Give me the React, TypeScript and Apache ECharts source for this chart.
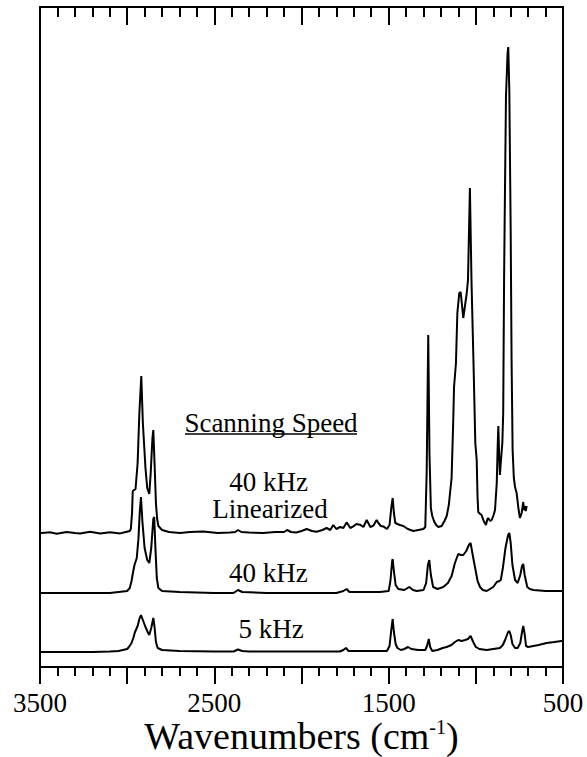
import React, { useEffect, useRef } from "react";
import * as echarts from "echarts";

// Wavenumber (cm-1) vs. band height (plot units above each trace's baseline)
const khz5: [number, number][] = [
  [3500, 0], [3200, 0], [3100, 0.5], [3050, 1], [3000, 3], [2990, 5], [2975, 9], [2965, 14],
  [2955, 20], [2940, 26], [2930, 33], [2921, 37], [2910, 32], [2895, 25], [2880, 19], [2873, 17],
  [2862, 24], [2850, 34], [2843, 25], [2835, 10], [2825, 4], [2800, 2], [2700, 1], [2500, 0.5],
  [2390, 0.5], [2364, 2.5], [2340, 1], [2300, 0.5], [2000, 0.5], [1780, 0.5], [1760, 2], [1745, 4],
  [1730, 1], [1600, 1], [1510, 1], [1495, 6], [1485, 22], [1477, 33], [1470, 20], [1460, 8],
  [1450, 4], [1430, 2], [1410, 3], [1389, 5], [1370, 3], [1330, 2], [1290, 2], [1280, 6],
  [1270, 13], [1262, 5], [1250, 1], [1220, 2], [1190, 4], [1167, 5], [1140, 7], [1120, 10],
  [1101, 12], [1080, 11], [1062, 12], [1045, 13], [1030, 16], [1015, 10], [1000, 5], [980, 3],
  [938, 2], [900, 3], [862, 4], [845, 7], [830, 13], [815, 20], [808, 21], [800, 17], [790, 8],
  [775, 4], [760, 4], [745, 9], [735, 20], [728, 26], [720, 18], [712, 6], [700, 5], [670, 6],
  [640, 7], [594, 9], [550, 10], [508, 11], [500, 11],
];

const khz40: [number, number][] = [
  [3500, 0], [3100, 0], [3000, 2], [2985, 5], [2975, 12], [2965, 22], [2958, 28], [2945, 35],
  [2935, 55], [2928, 80], [2921, 96], [2912, 70], [2900, 45], [2885, 33], [2873, 30], [2862, 45],
  [2850, 74], [2845, 76], [2838, 45], [2830, 15], [2821, 5], [2800, 2], [2700, 1], [2500, 0],
  [2390, 0], [2364, 3], [2340, 1], [2200, 0], [1800, 0], [1760, 2], [1741, 4], [1725, 1],
  [1550, 1], [1500, 2], [1490, 12], [1480, 32], [1477, 34], [1470, 22], [1460, 8], [1445, 4],
  [1410, 3], [1382, 6], [1360, 3], [1339, 2], [1300, 3], [1285, 10], [1275, 28], [1267, 33],
  [1258, 18], [1245, 6], [1220, 4], [1187, 6], [1160, 10], [1139, 17], [1120, 30], [1101, 39],
  [1085, 38], [1072, 38], [1055, 42], [1040, 48], [1030, 50], [1020, 40], [1005, 26], [990, 12],
  [976, 6], [960, 3], [938, 2], [900, 6], [880, 11], [865, 12], [857, 13], [845, 25], [830, 45],
  [815, 58], [808, 60], [800, 50], [790, 28], [775, 13], [760, 10], [745, 18], [735, 27],
  [728, 29], [720, 18], [705, 6], [690, 4], [670, 3], [600, 2], [500, 2],
];

const khz40Linearized: [number, number][] = [
  [3500, 0], [3490, 0], [3443, 0.7], [3404, -0.7], [3347, 1], [3300, 0], [3270, -0.4], [3213, 1.3],
  [3155, -0.4], [3098, 0.7], [3040, -0.4], [3002, 1.3], [2985, 2], [2979, 4], [2972, 20], [2968, 42],
  [2960, 43], [2952, 44], [2940, 70], [2930, 120], [2919, 157], [2910, 110], [2895, 65], [2885, 45],
  [2873, 39], [2865, 60], [2855, 95], [2850, 103], [2843, 70], [2835, 30], [2828, 14], [2821, 7],
  [2800, 3], [2760, 1], [2697, 0], [2640, 1], [2565, 1.5], [2480, 0], [2410, 0.5], [2380, 1],
  [2364, 3], [2345, 1], [2300, 0.5], [2221, 0], [2150, 1], [2100, 1], [2083, 3], [2060, 1],
  [2030, 0.5], [2000, 2], [1970, 4], [1940, 2], [1913, 1.3], [1880, 3], [1856, 5], [1835, 3],
  [1818, 8], [1800, 4], [1779, 6], [1760, 5], [1741, 10.6], [1720, 5], [1703, 6.6], [1685, 9],
  [1665, 8.3], [1645, 6], [1626, 13], [1605, 6], [1588, 7.3], [1569, 13], [1559, 10], [1545, 7],
  [1531, 6.6], [1510, 4], [1495, 8], [1485, 25], [1477, 35], [1470, 20], [1462, 10], [1450, 9],
  [1435, 8], [1416, 7], [1390, 4], [1359, 2], [1330, 3], [1301, 4], [1290, 6], [1282, 60],
  [1273, 198], [1266, 80], [1258, 25], [1250, 17], [1240, 12], [1228, 8], [1215, 6], [1196, 7],
  [1180, 12], [1167, 17], [1155, 28], [1148, 40], [1139, 55], [1130, 110], [1125, 146], [1114, 170],
  [1106, 220], [1095, 240], [1087, 241], [1072, 215], [1060, 230], [1052, 240], [1045, 253],
  [1034, 345], [1025, 253], [1012, 160], [1003, 90], [995, 73], [990, 35], [986, 21], [975, 19],
  [967, 18], [955, 12], [942, 8], [935, 13], [929, 15], [918, 12], [909, 13], [898, 18], [890, 23],
  [880, 50], [875, 85], [871, 107], [866, 77], [862, 58], [857, 70], [848, 90], [843, 120],
  [838, 253], [833, 340], [827, 437], [818, 480], [814, 486], [808, 443], [800, 300], [795, 173],
  [789, 83], [782, 55], [775, 46], [766, 40], [756, 25], [747, 15], [737, 20], [728, 31],
  [724, 23], [719, 27], [714, 22], [708, 27],
];

// vertical offsets of each trace's baseline (plot units)
const OFFSET_5K = 15;
const OFFSET_40K = 74;
const OFFSET_LIN = 134;

const X_MIN = 500;
const X_MAX = 3500;
const X_LABELS = [3500, 2500, 1500, 500];

const LABEL_TEXTS = ["Scanning Speed", "40 kHz", "Linearized", "40 kHz", "5 kHz"];

const FONT = "Liberation Serif";

function shift(data: [number, number][], off: number) {
  return data.map(([x, y]) => [x, y + off]);
}

export default function App() {
  const ref = useRef<HTMLDivElement>(null);
  useEffect(() => {
    if (!ref.current) return;
    const chart = echarts.init(ref.current, null, { renderer: "svg" });
    const lineSeries = (name: string, data: number[][]) => ({
      name,
      type: "line",
      data,
      showSymbol: false,
      symbol: "none",
      lineStyle: { color: "#000", width: 2 },
      xAxisIndex: 0,
      yAxisIndex: 0,
      z: 3,
    });
    const tickStyle = { color: "#000", width: 2 };
    const textEl = (text: string, x: number, y: number) => ({
      type: "text",
      x,
      y,
      style: {
        text,
        fill: "#000",
        fontSize: 27,
        fontFamily: FONT,
        align: "center",
        verticalAlign: "middle",
      },
      z: 10,
    });
    chart.setOption({
      animation: false,
      backgroundColor: "#fff",
      grid: { left: 40, right: 24, top: 7, bottom: 90, show: false },
      xAxis: [
        {
          type: "value",
          position: "bottom",
          min: X_MIN,
          max: X_MAX,
          interval: 500,
          inverse: true,
          axisLine: { show: true, onZero: false, lineStyle: tickStyle },
          axisTick: { show: true, inside: false, length: 17, lineStyle: tickStyle },
          minorTick: { show: true, splitNumber: 5, length: 9, lineStyle: tickStyle },
          axisLabel: {
            margin: 22,
            fontSize: 27,
            fontFamily: FONT,
            color: "#000",
            formatter: (v: number) => (X_LABELS.includes(v) ? String(v) : ""),
          },
          splitLine: { show: false },
        },
        {
          type: "value",
          position: "top",
          min: X_MIN,
          max: X_MAX,
          interval: 500,
          inverse: true,
          axisLine: { show: true, onZero: false, lineStyle: tickStyle },
          axisTick: { show: true, inside: true, length: 18, lineStyle: tickStyle },
          minorTick: { show: true, splitNumber: 5, length: 10, lineStyle: tickStyle },
          axisLabel: { show: false },
          splitLine: { show: false },
        },
      ],
      yAxis: [
        {
          type: "value",
          min: 0,
          max: 660,
          position: "left",
          axisLine: { show: true, onZero: false, lineStyle: tickStyle },
          axisTick: { show: false },
          axisLabel: { show: false },
          splitLine: { show: false },
        },
        {
          type: "value",
          min: 0,
          max: 660,
          position: "right",
          axisLine: { show: true, onZero: false, lineStyle: tickStyle },
          axisTick: { show: false },
          axisLabel: { show: false },
          splitLine: { show: false },
        },
      ],
      series: [
        lineSeries("5 kHz", shift(khz5, OFFSET_5K)),
        lineSeries("40 kHz", shift(khz40, OFFSET_40K)),
        lineSeries("40 kHz Linearized", shift(khz40Linearized, OFFSET_LIN)),
      ],
      graphic: [
        textEl(LABEL_TEXTS[0], 271, 423),
        {
          type: "line",
          shape: { x1: 185, y1: 434, x2: 357, y2: 434 },
          style: { stroke: "#000", lineWidth: 1.5 },
        },
        textEl(LABEL_TEXTS[1], 268.5, 481.9),
        textEl(LABEL_TEXTS[2], 270, 509),
        textEl(LABEL_TEXTS[3], 268.3, 572.6),
        textEl(LABEL_TEXTS[4], 271, 629.2),
        {
          type: "text",
          x: 301.5,
          y: 736,
          style: {
            text: "Wavenumbers (cm{sup|-1})",
            fill: "#000",
            fontSize: 38,
            fontFamily: FONT,
            align: "center",
            verticalAlign: "middle",
            rich: {
              sup: { fontSize: 20, fontFamily: FONT, verticalAlign: "top", fill: "#000" },
            },
          },
        },
      ],
    });
    return () => chart.dispose();
  }, []);
  return (
    <div
      ref={ref}
      style={{ position: "fixed", left: 0, top: 0, width: 587, height: 757, background: "#fff" }}
    />
  );
}
